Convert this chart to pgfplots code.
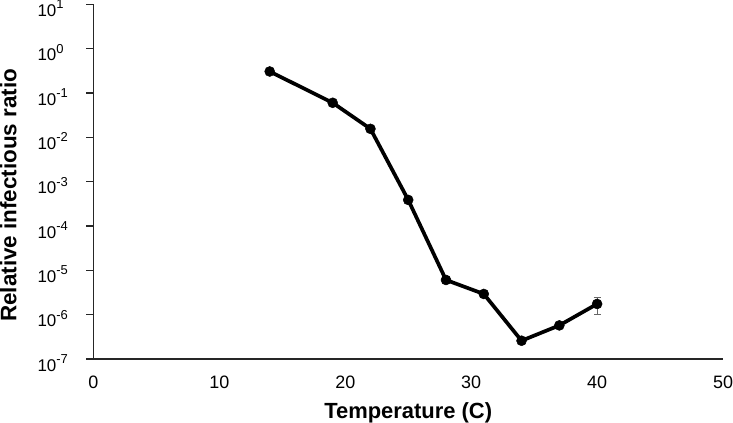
\documentclass[border=0pt]{standalone}
\usepackage{fontspec}
\setmainfont{Liberation Sans}
\usepackage{pgfplots}
\pgfplotsset{compat=1.18}
\newcommand{\sups}[1]{\raisebox{7.5bp}{\fontsize{13}{13}\selectfont #1}}
\begin{document}
\begin{tikzpicture}
\begin{axis}[
  scale only axis,
  width=629bp, height=354.3bp,
  xmin=0, xmax=50,
  ymode=log, ymin=1e-7, ymax=1e1,
  axis x line*=bottom, axis y line*=left,
  axis line style={-, line width=1.3bp, black!85},
  xtick={0,10,20,30,40,50},
  xticklabels={0,10,20,30,40,50},
  xtick style={draw=none},
  xticklabel style={font=\fontsize{18}{18}\selectfont, inner sep=0pt, anchor=north, yshift=-10bp},
  ytick={1e-7,1e-6,1e-5,1e-4,1e-3,1e-2,1e-1,1e0,1e1},
  yticklabels={10\sups{-7},10\sups{-6},10\sups{-5},10\sups{-4},10\sups{-3},10\sups{-2},10\sups{-1},10\sups{0},10\sups{1}},
  yminorticks=false,
  tick align=outside,
  major tick length=7bp,
  ytick style={line width=1.3bp, black!85},
  yticklabel style={font=\fontsize{17}{17}\selectfont, inner sep=0pt, anchor=base west, xshift=-49bp, yshift=-12bp},
  xlabel={Temperature (C)},
  ylabel={Relative infectious ratio},
  xlabel style={font=\bfseries\fontsize{22}{22}\selectfont, at={(axis description cs:0.5,0)}, anchor=north, inner sep=0pt, yshift=-43bp},
  ylabel style={font=\bfseries\fontsize{22.5}{22.5}\selectfont, at={(axis description cs:-0.1219,0.462)}, anchor=south, inner sep=0pt},
  clip=false,
]
\addplot+[black, line width=3.7bp, mark=*, mark size=5bp, mark options={solid, fill=black, draw=black, line width=0.5bp},
  error bars/.cd, y dir=both, y explicit,
  error bar style={line width=1bp, black!60},
  error mark options={rotate=90, mark size=3.5bp, line width=1bp, black!60}]
coordinates {
 (14,0.307)
 (19,0.0604)
 (22,0.0156)
 (25,3.89e-4)
 (28,6.08e-6)
 (31,2.94e-6)
 (34,2.59e-7)
 (37,5.74e-7)
 (40,1.75e-6) +- (0,7.3e-7)
};
\end{axis}
\end{tikzpicture}
\end{document}
